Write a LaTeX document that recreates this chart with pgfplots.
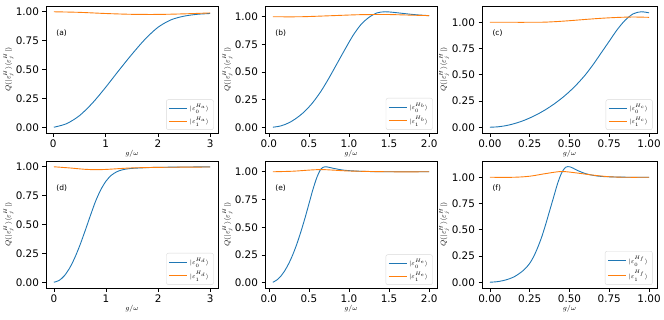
\documentclass[border=0pt]{standalone}
\usepackage{fontspec}
\setmainfont{DejaVu Sans}
\usepackage{pgfplots}
\pgfplotsset{compat=1.18}
\definecolor{tabblue}{HTML}{1F77B4}
\definecolor{taborange}{HTML}{FF7F0E}
\pgfplotsset{
  panel/.style={
    scale only axis, width=172pt, height=127pt, anchor=south west,
    enlargelimits=0.05,
    axis line style={line width=0.8pt},
    tick align=outside, major tick length=3.5pt,
    tick style={black, line width=0.6pt},
    xtick pos=bottom, ytick pos=left,
    ytick={0,0.25,0.5,0.75,1},
    yticklabel style={/pgf/number format/.cd, fixed, fixed zerofill, precision=2},
    ticklabel style={font=\fontsize{10.4}{12}\selectfont},
    /pgf/number format/assume math mode=true,
    xlabel={$g/\omega$},
    ylabel={$Q(|\varepsilon_j^{H}\rangle\langle\varepsilon_j^{H}|)$},
    label style={font=\fontsize{7}{8}\selectfont},
    xlabel style={at={(axis description cs:0.5,-0.105)}, anchor=north},
    ylabel style={at={(axis description cs:-0.17,0.5)}, anchor=south},
    legend cell align=left,
    legend style={at={(0.975,0.025)}, anchor=south east, draw=black!15, rounded corners=2pt,
      font=\fontsize{6.5}{7.5}\selectfont, row sep=1pt, inner sep=2.5pt},
    legend image code/.code={\draw[mark repeat=2,mark phase=2,#1] plot coordinates {(0pt,0pt) (9pt,0pt) (18pt,0pt)};},
    every axis plot/.append style={line width=0.9pt, smooth},
  },
  xint/.style={xtick={0,1,2,3}},
  xhalf/.style={xtick={0,0.5,1,1.5,2}, xticklabel style={/pgf/number format/.cd, fixed, fixed zerofill, precision=1}},
  xquart/.style={xtick={0,0.25,0.5,0.75,1}, xticklabel style={/pgf/number format/.cd, fixed, fixed zerofill, precision=2}},
}
\newcommand\plab[1]{\node[anchor=west, font=\fontsize{7.5}{9}\selectfont] at (axis description cs:0.04,0.79) {#1};}
\begin{document}
\begin{tikzpicture}
\path[use as bounding box] (0,0) rectangle (664pt,319pt);
% (a)
\begin{axis}[panel, xint, at={(46pt,186pt)}]
\addplot[tabblue] coordinates {(0.01,0.0) (0.25,0.03) (0.5,0.1) (0.75,0.21) (1.0,0.345) (1.25,0.49) (1.5,0.63) (1.75,0.76) (2.0,0.865) (2.25,0.93) (2.5,0.962) (2.75,0.978) (3.0,0.985)};
\addplot[taborange] coordinates {(0.01,1.0) (0.5,0.995) (1.0,0.985) (1.5,0.978) (2.0,0.977) (2.5,0.982) (3.0,0.99)};
\legend{$|\varepsilon_0^{H_a}\rangle$, $|\varepsilon_1^{H_a}\rangle$}
\plab{(a)}
\end{axis}
% (b)
\begin{axis}[panel, xhalf, at={(265pt,186pt)}]
\addplot[tabblue] coordinates {(0.05,0.0) (0.15,0.012) (0.25,0.04) (0.35,0.085) (0.45,0.145) (0.55,0.225) (0.65,0.325) (0.75,0.445) (0.85,0.575) (0.95,0.705) (1.05,0.83) (1.15,0.93) (1.25,0.995) (1.35,1.035) (1.45,1.045) (1.55,1.04) (1.65,1.032) (1.75,1.024) (1.85,1.017) (2.0,1.01)};
\addplot[taborange] coordinates {(0.05,1.0) (0.4,1.0) (0.8,1.01) (1.1,1.018) (1.3,1.02) (1.5,1.02) (1.75,1.015) (2.0,1.01)};
\legend{$|\varepsilon_0^{H_b}\rangle$, $|\varepsilon_1^{H_b}\rangle$}
\plab{(b)}
\end{axis}
% (c)
\begin{axis}[panel, xquart, width=175pt, at={(482pt,186pt)}]
\addplot[tabblue] coordinates {(0,0) (0.05,0.004) (0.1,0.015) (0.15,0.033) (0.2,0.057) (0.25,0.088) (0.3,0.125) (0.35,0.168) (0.4,0.218) (0.45,0.275) (0.5,0.34) (0.55,0.415) (0.6,0.5) (0.65,0.6) (0.7,0.71) (0.75,0.82) (0.8,0.93) (0.85,1.02) (0.9,1.08) (0.95,1.1) (1.0,1.09)};
\addplot[taborange] coordinates {(0,1.0) (0.3,1.0) (0.4,1.005) (0.5,1.015) (0.6,1.027) (0.7,1.038) (0.8,1.046) (0.9,1.05) (1.0,1.047)};
\legend{$|\varepsilon_0^{H_c}\rangle$, $|\varepsilon_1^{H_c}\rangle$}
\plab{(c)}
\end{axis}
% (d)
\begin{axis}[panel, xint, at={(46pt,31pt)}]
\addplot[tabblue] coordinates {(0,0) (0.1,0.015) (0.2,0.055) (0.3,0.12) (0.4,0.21) (0.5,0.32) (0.6,0.445) (0.7,0.575) (0.8,0.7) (0.9,0.8) (1.0,0.875) (1.1,0.925) (1.2,0.955) (1.3,0.972) (1.4,0.981) (1.5,0.986) (1.75,0.992) (2.0,0.995) (2.5,0.998) (3.0,0.999)};
\addplot[taborange] coordinates {(0,1.0) (0.3,0.99) (0.6,0.978) (0.8,0.975) (1.0,0.977) (1.25,0.984) (1.5,0.99) (2.0,0.995) (3.0,0.998)};
\legend{$|\varepsilon_0^{H_d}\rangle$, $|\varepsilon_1^{H_d}\rangle$}
\plab{(d)}
\end{axis}
% (e)
\begin{axis}[panel, xhalf, at={(265pt,31pt)}]
\addplot[tabblue] coordinates {(0.05,0.005) (0.1,0.025) (0.15,0.06) (0.2,0.11) (0.25,0.175) (0.3,0.255) (0.35,0.35) (0.4,0.46) (0.45,0.58) (0.5,0.71) (0.55,0.84) (0.6,0.95) (0.65,1.025) (0.7,1.045) (0.75,1.04) (0.8,1.032) (0.9,1.018) (1.0,1.01) (1.2,1.003) (1.5,1.0) (2.0,1.0)};
\addplot[taborange] coordinates {(0.05,1.0) (0.3,1.005) (0.5,1.015) (0.65,1.02) (0.8,1.015) (1.0,1.007) (1.5,1.0) (2.0,1.0)};
\legend{$|\varepsilon_0^{H_e}\rangle$, $|\varepsilon_1^{H_e}\rangle$}
\plab{(e)}
\end{axis}
% (f)
\begin{axis}[panel, xquart, width=175pt, at={(482pt,31pt)}]
\addplot[tabblue] coordinates {(0,0) (0.05,0.006) (0.1,0.022) (0.15,0.05) (0.2,0.1) (0.225,0.135) (0.25,0.18) (0.275,0.245) (0.3,0.33) (0.325,0.43) (0.35,0.55) (0.375,0.68) (0.4,0.81) (0.425,0.94) (0.45,1.04) (0.475,1.095) (0.5,1.1) (0.525,1.085) (0.55,1.065) (0.6,1.035) (0.65,1.018) (0.7,1.008) (0.8,1.002) (0.9,1.0) (1.0,1.0)};
\addplot[taborange] coordinates {(0,1.0) (0.15,1.0) (0.25,1.01) (0.35,1.035) (0.45,1.055) (0.55,1.04) (0.65,1.02) (0.75,1.005) (0.85,1.0) (1.0,1.0)};
\legend{$|\varepsilon_0^{H_f}\rangle$, $|\varepsilon_1^{H_f}\rangle$}
\plab{(f)}
\end{axis}
\end{tikzpicture}
\end{document}
